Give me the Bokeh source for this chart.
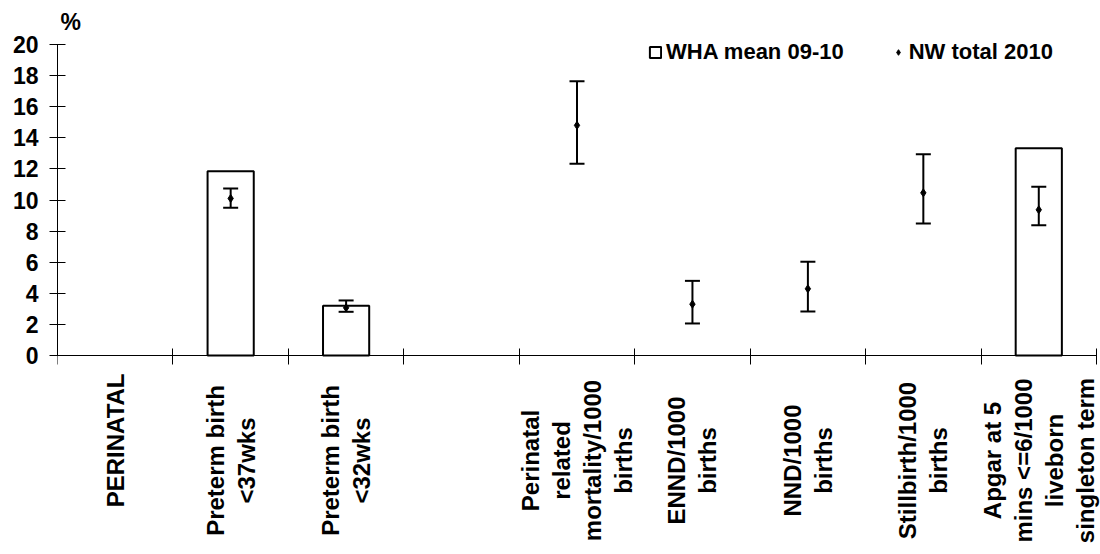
import math
from bokeh.plotting import figure
from bokeh.models import (Range1d, FixedTicker, LinearAxis, Whisker, ColumnDataSource,
                          Label, Legend, LegendItem, TeeHead)
from bokeh.embed import file_html
from bokeh.resources import INLINE

# ---- data ----
categories = [
    "PERINATAL",
    "Preterm birth\n<37wks",
    "Preterm birth\n<32wks",
    "",
    "Perinatal\nrelated\nmortality/1000\nbirths",
    "ENND/1000\nbirths",
    "NND/1000\nbirths",
    "Stillbirth/1000\nbirths",
    "Apgar at 5\nmins <=6/1000\nliveborn\nsingleton term",
]
wha_mean = [None, 11.85, 3.2, None, None, None, None, None, 13.33]
nw_total = [None, 10.1, 3.07, None, 14.8, 3.3, 4.29, 10.46, 9.37]
nw_lower = [None, 9.5, 2.81, None, 12.33, 2.06, 2.83, 8.49, 8.38]
nw_upper = [None, 10.74, 3.54, None, 17.64, 4.8, 6.03, 12.95, 10.85]
y_ticks = list(range(0, 21, 2))
series_names = ["WHA mean 09-10", "NW total 2010"]
y_unit = "%"

FONT = "Liberation Sans"
n = len(categories)

# layout geometry (pixels)
W, H = 1100, 554
X_LEFT, X_RIGHT_AXIS = 57, 1096          # category axis spans these pixels
Y0_PX, Y20_PX = 355, 44                  # value axis 0..20 spans these pixels
ppu_y = (Y0_PX - Y20_PX) / 20.0
y_lo = -(H - Y0_PX) / ppu_y
y_hi = 20 + Y20_PX / ppu_y
x_hi = n * (W - X_LEFT) / (X_RIGHT_AXIS - X_LEFT)

bar_idx = [i for i, v in enumerate(wha_mean) if v is not None]
bar_src = ColumnDataSource(dict(x=[i + 0.5 for i in bar_idx], top=[wha_mean[i] for i in bar_idx]))
pt_idx = [i for i, v in enumerate(nw_total) if v is not None]
pt_src = ColumnDataSource(dict(
    x=[i + 0.5 for i in pt_idx],
    y=[nw_total[i] for i in pt_idx],
    lower=[nw_lower[i] for i in pt_idx],
    upper=[nw_upper[i] for i in pt_idx],
))

p = figure(width=W, height=H, x_range=Range1d(0, x_hi), y_range=Range1d(y_lo, y_hi),
           output_backend="svg", toolbar_location=None,
           x_axis_type=None, y_axis_type=None,
           min_border_left=X_LEFT, min_border_right=0, min_border_top=0, min_border_bottom=0)
p.outline_line_color = None
p.background_fill_color = "white"
p.border_fill_color = "white"

yaxis = LinearAxis(ticker=FixedTicker(ticks=y_ticks), bounds=(0, 20),
                   major_tick_in=8, major_tick_out=8,
                   minor_tick_line_color=None, axis_line_color="black", major_tick_line_color="black",
                   major_label_text_font=FONT, major_label_text_font_style="bold",
                   major_label_text_font_size="23px", major_label_text_color="black",
                   major_label_standoff=11)
p.add_layout(yaxis, "left")

# category boundary ticks (no tick labels: category names are drawn as rotated labels)
xaxis = LinearAxis(ticker=FixedTicker(ticks=[], minor_ticks=list(range(n + 1))),
                   fixed_location=0, bounds=(0, n),
                   minor_tick_in=7, minor_tick_out=9, minor_tick_line_color="black",
                   major_tick_line_color=None, axis_line_color="black")
p.add_layout(xaxis, "below")

bars = p.vbar(x="x", top="top", bottom=0, width=0.4, source=bar_src,
              fill_color="white", line_color="black", line_width=2)

whisk = Whisker(source=pt_src, base="x", upper="upper", lower="lower",
                line_color="black", line_width=2, level="overlay",
                upper_head=TeeHead(size=15, line_color="black", line_width=2),
                lower_head=TeeHead(size=15, line_color="black", line_width=2))
p.add_layout(whisk)
pts = p.scatter(x="x", y="y", source=pt_src, marker="diamond", size=8, color="black")

legend = Legend(items=[LegendItem(label=series_names[0], renderers=[bars]),
                       LegendItem(label=series_names[1], renderers=[pts])],
                orientation="horizontal", location=(591, 489), padding=0, margin=0,
                spacing=47, glyph_width=14, glyph_height=14, label_standoff=4, label_height=14,
                label_text_font=FONT, label_text_font_style="bold", label_text_font_size="22px",
                label_text_color="black", border_line_color=None, background_fill_alpha=0)
p.add_layout(legend)

p.add_layout(Label(x=0, y=20, x_offset=3, y_offset=23, text=y_unit, text_font=FONT,
                   text_font_style="bold", text_font_size="23px", text_color="black",
                   text_baseline="alphabetic"))

for i, lab in enumerate(categories):
    if not lab:
        continue
    multi = "\n" in lab
    p.add_layout(Label(x=i + 0.5, y=0, y_offset=-105 if multi else -18, angle=math.pi / 2,
                       text=lab, text_align="center" if multi else "right", text_baseline="middle",
                       text_line_height=1.15, text_font=FONT, text_font_style="bold",
                       text_font_size="24px", text_color="black"))

open("out.html", "w").write(file_html(p, INLINE))
